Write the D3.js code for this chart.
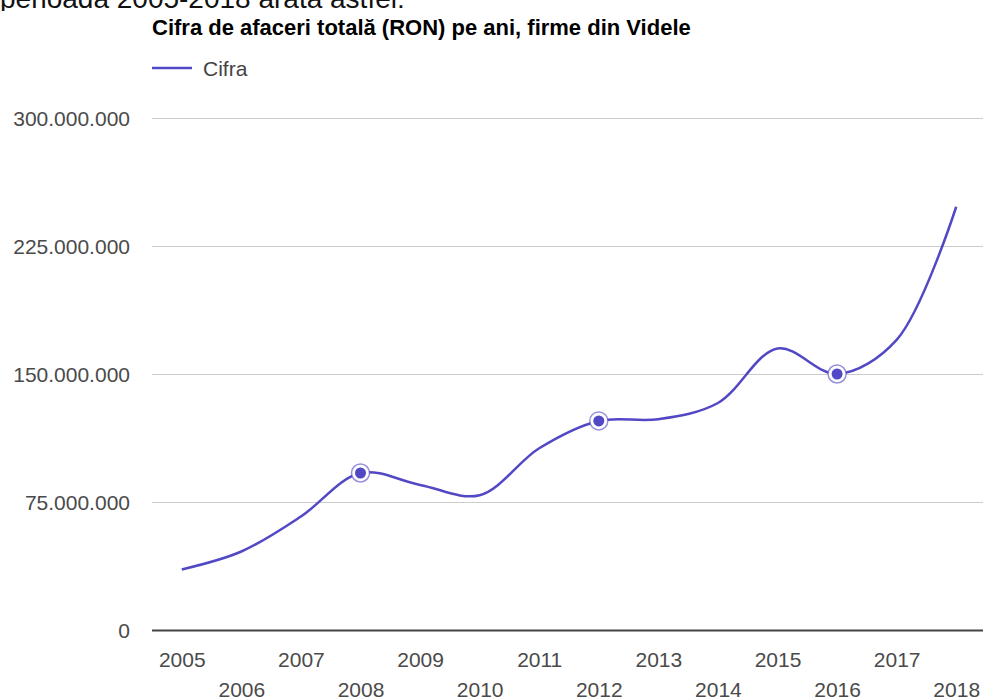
<!DOCTYPE html>
<html>
<head>
<meta charset="utf-8">
<script src="https://cdn.jsdelivr.net/npm/d3@7/dist/d3.min.js"></script>
<style>
  html, body { margin: 0; padding: 0; background: #fff; }
  svg { display: block; }
</style>
</head>
<body>
<svg id="chart" width="983" height="699"></svg>
<script>
// ---- data ----
const years = ["2005","2006","2007","2008","2009","2010","2011","2012","2013","2014","2015","2016","2017","2018"];
const cifra = [35500000, 46000000, 66500000, 92000000, 85000000, 79000000, 106500000, 122500000, 123500000, 133000000, 165000000, 150000000, 170000000, 248000000];
const highlighted = ["2008", "2012", "2016"];
const yTicks = [0, 75000000, 150000000, 225000000, 300000000];
const seriesName = "Cifra";
const titleText = "Cifra de afaceri totală (RON) pe ani, firme din Videle";
const introText = "perioada 2005-2018 arată astfel:";

(function () {
// ---- layout ----
const W = 983, H = 699;
const plotLeft = 152, plotRight = 983, plotTop = 118, plotBottom = 630;
const color = "#5248c6";
const font = "'Liberation Sans', Arial, sans-serif";

const svg = d3.select("#chart");

// intro text (cut off at the top)
svg.append("text")
  .attr("x", 0).attr("y", 8)
  .attr("font-family", font).attr("font-size", 28)
  .attr("fill", "#111")
  .text(introText);

// chart background covering below
svg.append("rect").attr("x", 0).attr("y", 11).attr("width", W).attr("height", H - 11).attr("fill", "#fff");

const x = d3.scalePoint().domain(years).range([plotLeft, 986]).padding(0.5);
const y = d3.scaleLinear().domain([0, 300000000]).range([plotBottom, plotTop]);

const fmt = v => d3.format(",")(v).replace(/,/g, ".");

// title
svg.append("text")
  .attr("x", plotLeft).attr("y", 35)
  .attr("font-family", font).attr("font-size", 22).attr("font-weight", "bold")
  .attr("fill", "#000")
  .text(titleText);

// legend
svg.append("line")
  .attr("x1", plotLeft).attr("x2", 192).attr("y1", 68).attr("y2", 68)
  .attr("stroke", color).attr("stroke-width", 2.5);
svg.append("text")
  .attr("x", 203).attr("y", 76)
  .attr("font-family", font).attr("font-size", 21)
  .attr("fill", "#444")
  .text(seriesName);

// y axis gridlines & labels
const yAxis = d3.axisLeft(y).tickValues(yTicks).tickFormat(fmt).tickSize(-(plotRight - plotLeft)).tickPadding(22);
const gy = svg.append("g").attr("transform", `translate(${plotLeft},0)`).call(yAxis);
gy.select(".domain").remove();
gy.selectAll(".tick line").attr("stroke", "#cccccc").attr("stroke-width", 1);
gy.selectAll(".tick text")
  .attr("font-family", font).attr("font-size", 21).attr("fill", "#4a4a4a").attr("dy", "0.35em");
gy.selectAll(".tick").filter(d => d === 0).select("line").attr("stroke", "#444").attr("stroke-width", 2);

// x axis labels (staggered)
const xAxis = d3.axisBottom(x).tickSize(0).tickPadding(0);
const gx = svg.append("g").attr("transform", `translate(0,${plotBottom})`).call(xAxis);
gx.select(".domain").remove();
gx.selectAll(".tick text")
  .attr("font-family", font).attr("font-size", 21).attr("fill", "#4a4a4a")
  .attr("dy", null)
  .attr("y", (d, i) => i % 2 === 0 ? 37 : 67);

// line
const line = d3.line()
  .x((d, i) => x(years[i]))
  .y(d => y(d))
  .curve(d3.curveCatmullRom.alpha(0.5));
svg.append("path")
  .datum(cifra)
  .attr("d", line)
  .attr("fill", "none")
  .attr("stroke", color)
  .attr("stroke-width", 2.5);

// highlighted points
const pts = years.map((yr, i) => ({yr, v: cifra[i]})).filter(d => highlighted.includes(d.yr));
const gp = svg.append("g");
gp.selectAll("circle.ring").data(pts).enter().append("circle")
  .attr("cx", d => x(d.yr)).attr("cy", d => y(d.v)).attr("r", 9)
  .attr("fill", "#fff").attr("stroke", color).attr("stroke-opacity", 0.6).attr("stroke-width", 1.5);
gp.selectAll("circle.dot").data(pts).enter().append("circle")
  .attr("cx", d => x(d.yr)).attr("cy", d => y(d.v)).attr("r", 5.5)
  .attr("fill", color);
})();
</script>
</body>
</html>
